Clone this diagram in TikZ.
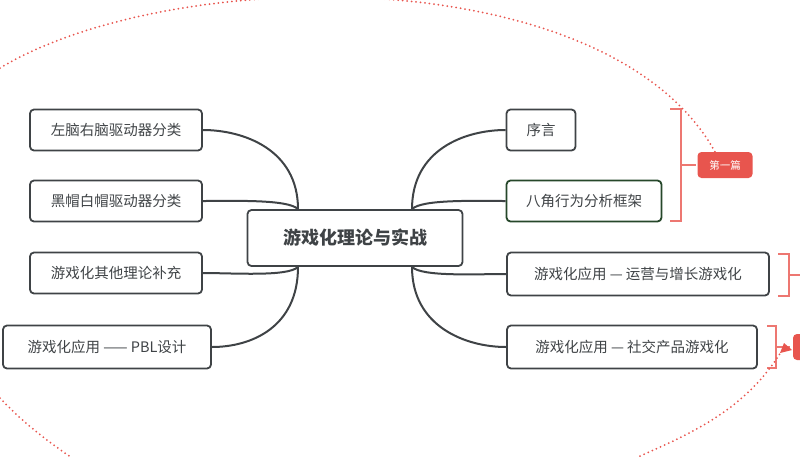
\documentclass[tikz,border=0pt]{standalone}
\usepackage{fontspec}
\setmainfont{Noto Sans CJK SC}
\usetikzlibrary{arrows.meta}
\definecolor{boxline}{HTML}{3F4346}
\definecolor{tagred}{HTML}{E8554E}
\begin{document}
\begin{tikzpicture}[x=1pt,y=-1pt,line width=2pt]
        \tikzstyle{topicnode}=[
            draw=boxline,
            rounded corners=4pt,
            line width=1.8pt,
            minimum height=41pt,
            inner xsep=15pt,
            font=\fontsize{14.5}{17}\selectfont,
            text=boxline
        ]
        \tikzstyle{branch}=[draw=boxline, line width=2pt]
        \tikzstyle{bracket}=[draw=tagred!80, line width=1.3pt]
        \tikzstyle{tagnode}=[fill=tagred, rounded corners=4pt, text=white,
            minimum width=55pt, minimum height=26pt, font=\fontsize{10.5}{12}\selectfont]
        \tikzstyle{relline}=[draw=tagred, line width=2pt, line cap=round, dash pattern=on 0pt off 4.5pt]

        \useasboundingbox (0,0) rectangle (800,456);

        \node[topicnode, minimum width=215pt, minimum height=56pt,
              font=\fontsize{18}{21}\selectfont\bfseries] (root) at (355,238) {游戏化理论与实战};

        \node[topicnode, minimum width=172pt] (L1) at (116,130) {左脑右脑驱动器分类};
        \node[topicnode, minimum width=172pt] (L2) at (116,201) {黑帽白帽驱动器分类};
        \node[topicnode, minimum width=172pt] (L3) at (116,273) {游戏化其他理论补充};
        \node[topicnode, minimum width=208pt, minimum height=43pt] (L4) at (107,347) {游戏化应用 —— PBL设计};

        \node[topicnode, minimum width=69pt] (R1) at (541,130) {序言};
        \node[topicnode, minimum width=155pt, draw=black!70!green!40!boxline] (R2) at (584,201) {八角行为分析框架};
        \node[topicnode, minimum width=262pt, minimum height=43pt] (R3) at (638,274) {游戏化应用 — 运营与增长游戏化};
        \node[topicnode, minimum width=250pt, minimum height=43pt] (R4) at (632,347) {游戏化应用 — 社交产品游戏化};

        % branches
        \draw[branch] ([xshift=-57pt]root.north) .. controls +(0,-60) and +(40,0) .. (L1.east);
        \draw[branch] ([xshift=-57pt]root.north) .. controls +(-10,-10) and +(30,0) .. (L2.east);
        \draw[branch] ([xshift=-57pt]root.south) .. controls +(-10,10) and +(30,0) .. (L3.east);
        \draw[branch] ([xshift=-57pt]root.south) .. controls +(0,60) and +(40,0) .. (L4.east);
        \draw[branch] ([xshift=57pt]root.north) .. controls +(0,-60) and +(-40,0) .. (R1.west);
        \draw[branch] ([xshift=57pt]root.north) .. controls +(10,-10) and +(-30,0) .. (R2.west);
        \draw[branch] ([xshift=57pt]root.south) .. controls +(10,10) and +(-30,0) .. (R3.west);
        \draw[branch] ([xshift=57pt]root.south) .. controls +(0,60) and +(-40,0) .. (R4.west);

        % brackets and tags
        \draw[bracket] (670,109) -- (681,109) -- (681,221) -- (670,221);
        \draw[bracket] (681,165) -- (696,165);
        \node[tagnode] (T1) at (725,165) {第一篇};
        \draw[bracket] (778,254) -- (789,254) -- (789,296) -- (778,296);
        \draw[bracket] (789,275) -- (800,275);
        \draw[bracket] (767,326) -- (776,326) -- (776,368) -- (767,368);
        \draw[bracket] (776,347) -- (790,347);
        \node[tagnode, anchor=west, minimum width=30pt] (T2) at (792,347) {};

        % relations
        \coordinate (relA) at (0,68);
        \coordinate (relB) at (0,398);
        \coordinate (relC) at (640,456);
        \draw[relline] (relA) .. controls (180,-40) and (640,-40) .. ([yshift=-22pt]T1.north);
        \fill[tagred] ([yshift=-22pt]T1.north) circle (3.5pt);
        \draw[relline] (relB) .. controls (30,430) and (60,450) .. (90,470);
        \draw[relline] (relC) .. controls (700,430) and (750,405) .. ([xshift=-8pt,yshift=14pt]T2.south west);
        \fill[tagred] ([yshift=11pt]T2.south west) -- ++(-12,3) -- ++(4,-10) -- cycle;
\end{tikzpicture}
\end{document}
